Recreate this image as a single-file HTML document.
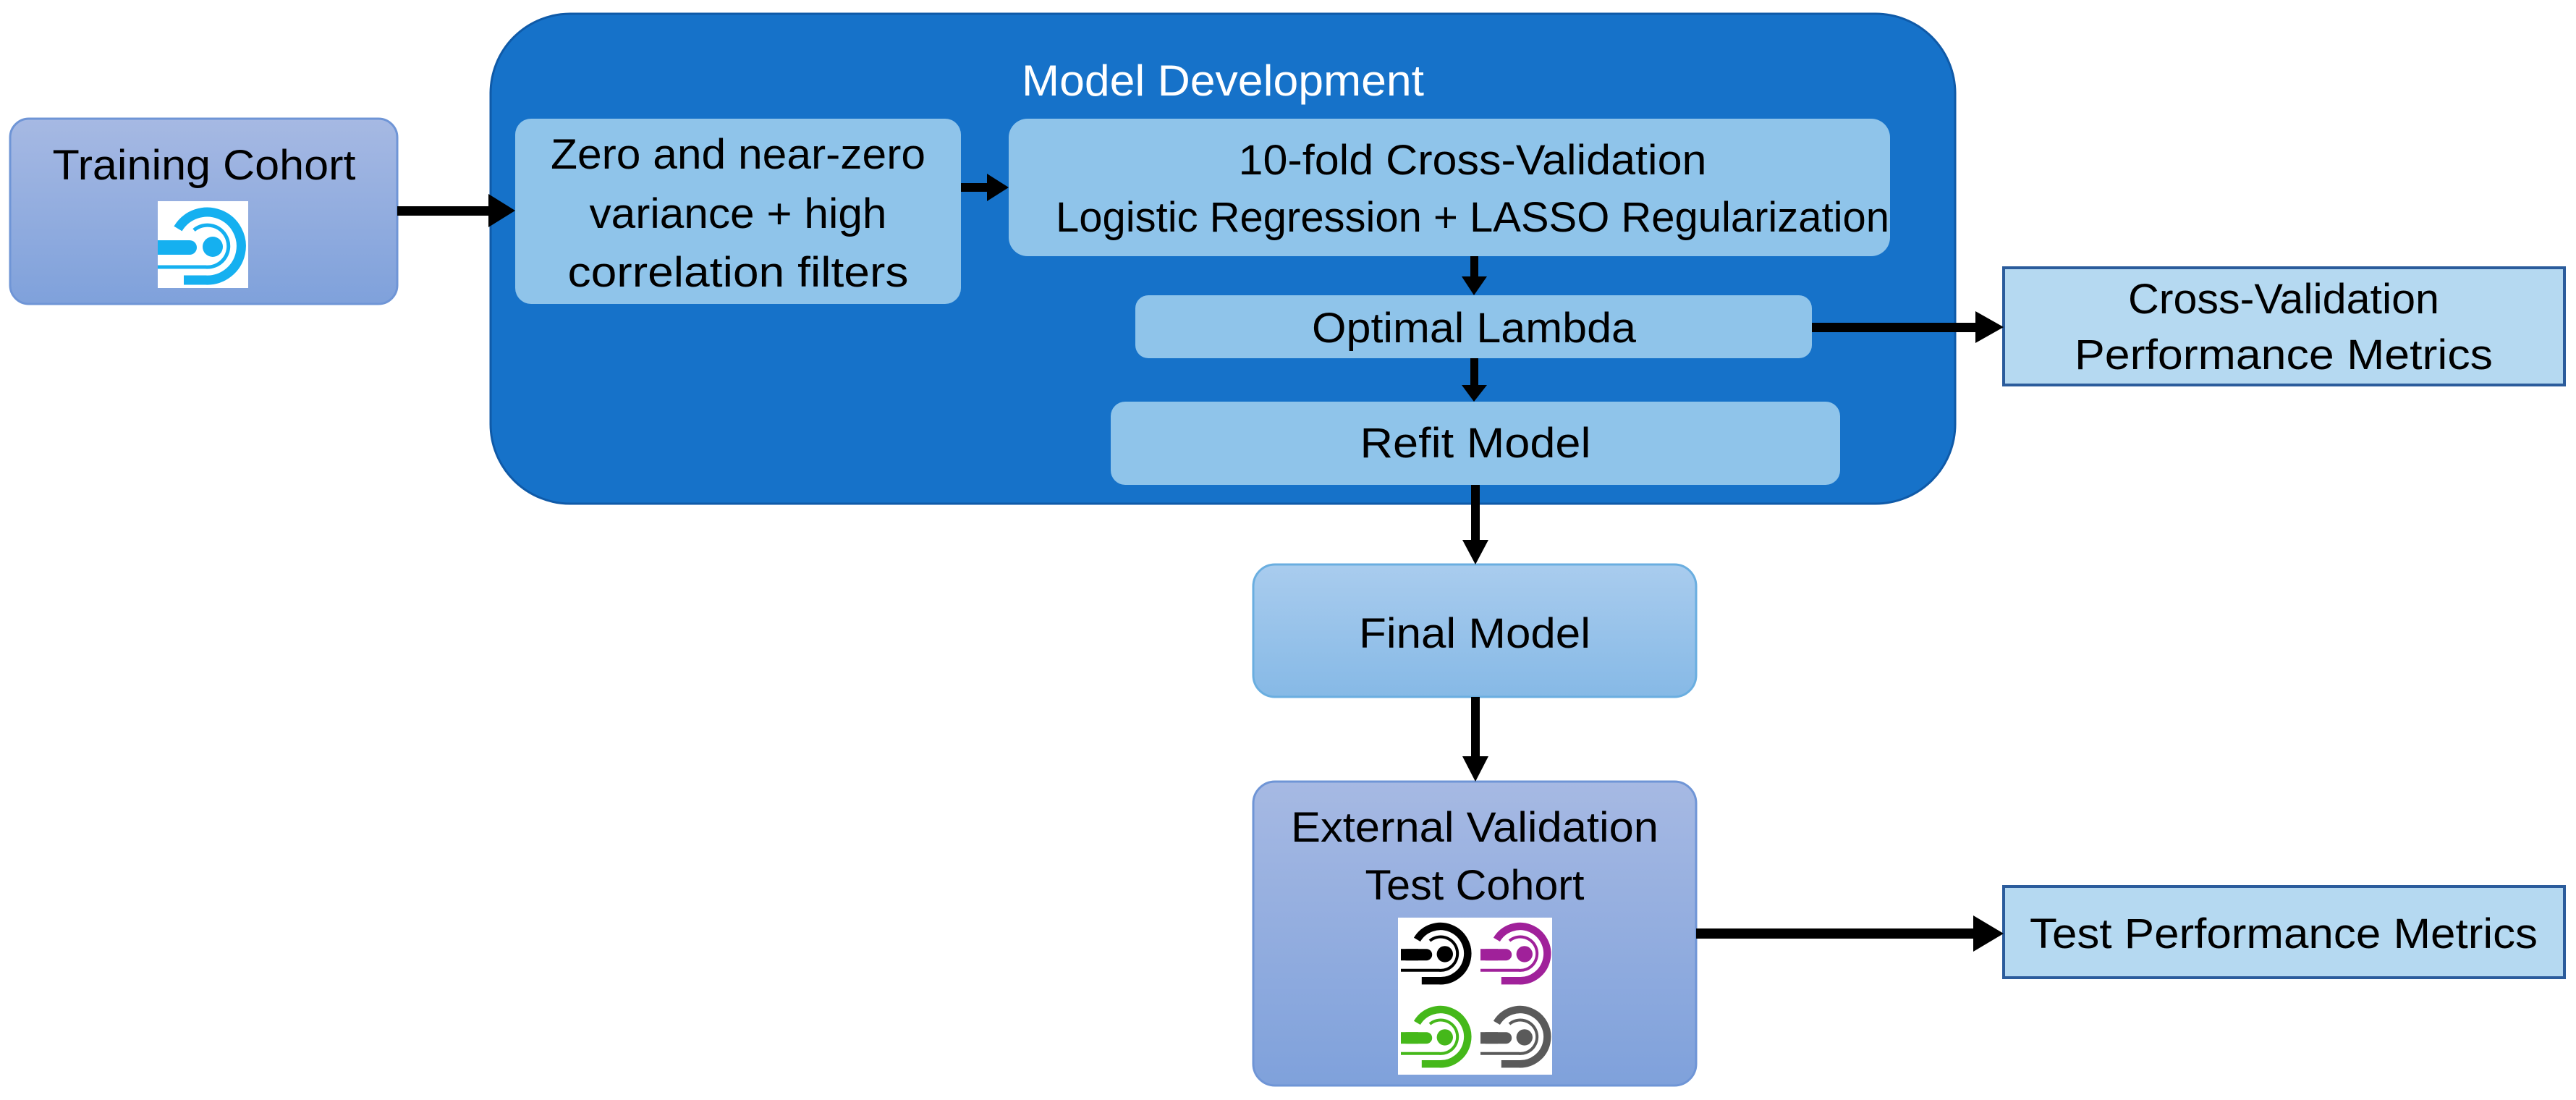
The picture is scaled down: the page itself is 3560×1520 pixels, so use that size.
<!DOCTYPE html>
<html><head><meta charset="utf-8"><style>
html,body{margin:0;padding:0;background:#fff}
svg{display:block}
text{font-family:"Liberation Sans",sans-serif;font-size:58px;fill:#000;text-anchor:middle}
</style></head><body>
<svg width="3560" height="1520" viewBox="0 0 3560 1520" xmlns="http://www.w3.org/2000/svg">
<defs>
<linearGradient id="gp" x1="0" y1="0" x2="0" y2="1"><stop offset="0" stop-color="#a6b9e3"/><stop offset="1" stop-color="#7fa1db"/></linearGradient>
<linearGradient id="gb" x1="0" y1="0" x2="0" y2="1"><stop offset="0" stop-color="#a9ccee"/><stop offset="1" stop-color="#86b9e6"/></linearGradient>
<g id="ic">
<path d="M28,38 A47,47 0 1 1 66,109 L36,109" fill="none" stroke="currentColor" stroke-width="13"/>
<path d="M50,40 A29,29 0 1 1 66,91 L0,91" fill="none" stroke="currentColor" stroke-width="5"/>
<circle cx="76" cy="63" r="14" fill="currentColor"/>
<rect x="0" y="54" width="54" height="20" rx="10" fill="currentColor"/>
<rect x="0" y="54" width="30" height="20" fill="currentColor"/>
</g>
</defs>

<rect x="14" y="164" width="535" height="256" rx="26" fill="url(#gp)" stroke="#6f95d6" stroke-width="3"/>
<text x="282" y="248" textLength="419" lengthAdjust="spacingAndGlyphs">Training Cohort</text>
<rect x="218" y="278" width="125" height="120" fill="#fff"/>
<use href="#ic" x="218" y="278" style="color:#15b0f0"/>

<rect x="678" y="19" width="2024" height="677" rx="110" fill="#1672c9" stroke="#0f5aa8" stroke-width="3"/>
<text x="1690" y="132" textLength="556" lengthAdjust="spacingAndGlyphs" style="fill:#fff;font-size:60px">Model Development</text>

<rect x="712" y="164" width="616" height="256" rx="22" fill="#8fc4ea"/>
<text x="1020" y="233" textLength="518" lengthAdjust="spacingAndGlyphs">Zero and near-zero</text>
<text x="1020" y="315" textLength="411" lengthAdjust="spacingAndGlyphs">variance + high</text>
<text x="1020" y="396" textLength="471" lengthAdjust="spacingAndGlyphs">correlation filters</text>

<rect x="1394" y="164" width="1218" height="190" rx="26" fill="#8fc4ea"/>
<text x="2035" y="241" textLength="647" lengthAdjust="spacingAndGlyphs">10-fold Cross-Validation</text>
<text x="2035" y="320" textLength="1152" lengthAdjust="spacingAndGlyphs">Logistic Regression + LASSO Regularization</text>

<rect x="1569" y="408" width="935" height="87" rx="18" fill="#8fc4ea"/>
<text x="2037" y="473" textLength="448" lengthAdjust="spacingAndGlyphs">Optimal Lambda</text>

<rect x="1535" y="555" width="1008" height="115" rx="20" fill="#8fc4ea"/>
<text x="2039" y="632" textLength="319" lengthAdjust="spacingAndGlyphs">Refit Model</text>

<rect x="2769" y="370" width="775" height="162" fill="#b5d9f1" stroke="#2b5c9c" stroke-width="4"/>
<text x="3156" y="433" textLength="430" lengthAdjust="spacingAndGlyphs">Cross-Validation</text>
<text x="3156" y="510" textLength="578" lengthAdjust="spacingAndGlyphs">Performance Metrics</text>

<rect x="1732" y="780" width="612" height="183" rx="30" fill="url(#gb)" stroke="#6aaee0" stroke-width="3"/>
<text x="2038" y="895" textLength="320" lengthAdjust="spacingAndGlyphs">Final Model</text>

<rect x="1732" y="1080" width="612" height="420" rx="30" fill="url(#gp)" stroke="#6f95d6" stroke-width="3"/>
<text x="2038" y="1163" textLength="508" lengthAdjust="spacingAndGlyphs">External Validation</text>
<text x="2038" y="1243" textLength="303" lengthAdjust="spacingAndGlyphs">Test Cohort</text>
<rect x="1932" y="1268" width="213" height="217" fill="#fff"/>
<g transform="translate(1936,1268) scale(0.8)" style="color:#000"><use href="#ic"/></g>
<g transform="translate(2046,1268) scale(0.8)" style="color:#a0219a"><use href="#ic"/></g>
<g transform="translate(1936,1383) scale(0.8)" style="color:#45b81a"><use href="#ic"/></g>
<g transform="translate(2046,1383) scale(0.8)" style="color:#5a5a5a"><use href="#ic"/></g>

<rect x="2769" y="1225" width="775" height="126" fill="#b5d9f1" stroke="#2b5c9c" stroke-width="4"/>
<text x="3156" y="1310" textLength="702" lengthAdjust="spacingAndGlyphs">Test Performance Metrics</text>

<g fill="#000">
<rect x="549" y="285" width="130" height="13"/>
<polygon points="675,268 712,291 675,314"/>
<rect x="1328" y="253" width="40" height="12"/>
<polygon points="1364,240 1394,259 1364,278"/>
<rect x="2032" y="354" width="11" height="30"/>
<polygon points="2020,382 2055,382 2037,408"/>
<rect x="2032" y="495" width="11" height="40"/>
<polygon points="2020,532 2055,532 2037,555"/>
<rect x="2504" y="446" width="230" height="13"/>
<polygon points="2730,430 2769,452 2730,474"/>
<rect x="2033" y="670" width="12" height="80"/>
<polygon points="2021,746 2057,746 2039,780"/>
<rect x="2033" y="963" width="12" height="85"/>
<polygon points="2021,1045 2057,1045 2039,1080"/>
<rect x="2344" y="1283" width="385" height="14"/>
<polygon points="2727,1265 2769,1290 2727,1315"/>
</g>
</svg>
</body></html>
